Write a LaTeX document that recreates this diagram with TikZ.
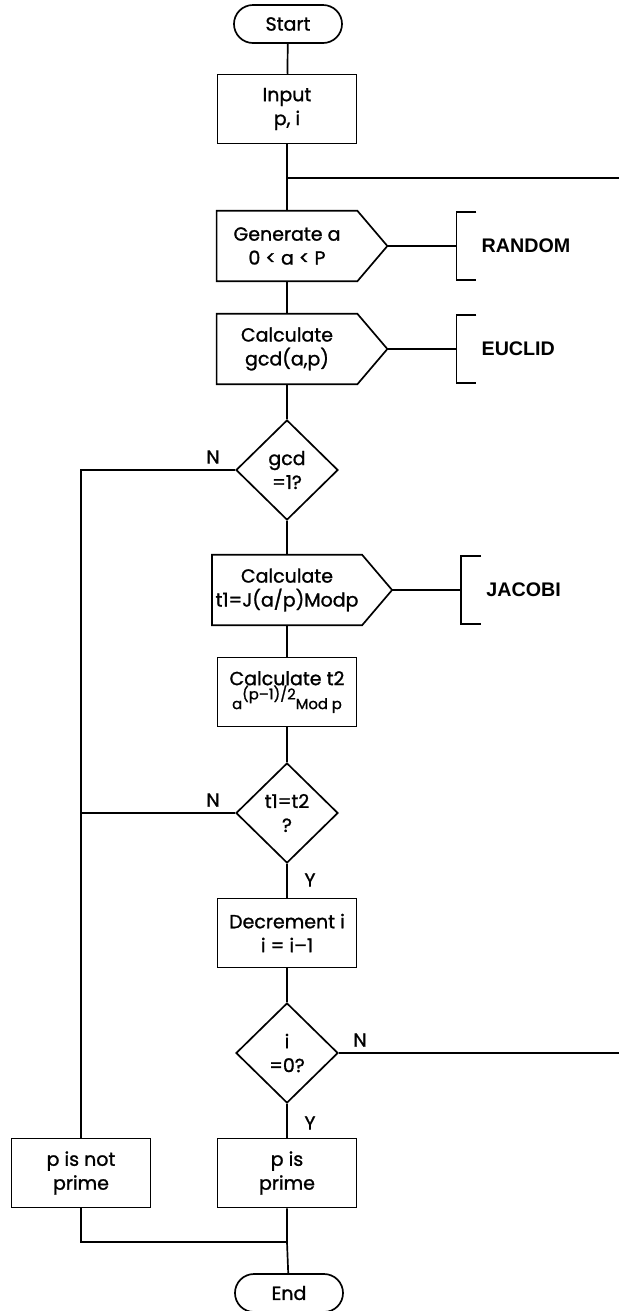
\documentclass[tikz,border=0pt]{standalone}
\usepackage{fontspec}
\setmainfont{Poppins}[FakeBold=1.2]
\newfontfamily\libfont{Liberation Sans}
\usetikzlibrary{shapes.geometric,shapes.misc,calc}

\tikzset{
  flow/.style={line width=1.2pt},
  term/.style={rounded rectangle, draw, flow, minimum width=2.7cm,
    minimum height=0.95cm, inner sep=0pt},
  proc/.style={rectangle, draw, flow, minimum width=3.475cm,
    minimum height=1.72cm, inner sep=2pt, align=center},
  subr/.style={proc, draw=none},
  decide/.style={diamond, draw, flow, minimum width=2.55cm,
    minimum height=2.5cm, inner sep=0pt, align=center},
  yn/.style={inner sep=0pt},
  lib/.style={font=\libfont\bfseries\fontsize{14}{16}\selectfont,
    inner sep=0pt, anchor=west},
}

% box with a pointed right end
\newcommand{\tipbox}[1]{%
  \draw[flow] (#1.north west) -- (#1.north east)
    -- ($(#1.east)+(30,0)$) coordinate (#1-tip)
    -- (#1.south east) -- (#1.south west) -- cycle;}

% bracket naming the routine that is called
\newcommand{\libref}[3]{%
  \coordinate (#1) at ($(#2-tip)+(69,0)$);
  \draw[flow] (#2-tip) -- (#1);
  \draw[flow] ($(#1)+(20,-34)$) -- ($(#1)+(0,-34)$)
    -- ($(#1)+(0,34)$) -- ($(#1)+(20,34)$);
  \node[lib] (#1-name) at ($(#1)+(25,0)$) {#3};}

\begin{document}
\begin{tikzpicture}[x=0.025cm,y=-0.025cm,font=\fontsize{13.5}{17}\selectfont]
  \useasboundingbox (0,0) rectangle (619,1311);

  \node[term] (start) at (288,24) {Start};
  \node[proc] (input) at (287,109) {Input\\p, i};
  \coordinate (loopin) at (287,178);
  \coordinate (loopR) at (619,178);
  \node[subr] (gen) at (287,246) {Generate a\\0 < a < P};
  \node[subr] (gcd) at (287,349) {Calculate\\gcd(a,p)};
  \node[decide] (isone) at (287,470) {gcd\\=1?};
  \node[subr] (jac) at (287,590) {Calculate\\t1=J(a/p)Modp};
  \node[proc] (pow) at (287,692)
    {Calculate t2\\{\fontsize{10.5}{12}\selectfont a\raisebox{1.2ex}{(p--1)/2}Mod p}};
  \node[decide] (eq) at (287,813) {t1=t2\\?};
  \node[proc] (dec) at (287,933) {Decrement i\\i = i--1};
  \node[decide] (zero) at (287,1053) {i\\=0?};
  \coordinate (loopback) at (619,1053);
  \node[proc] (notprime) at (81,1173) {p is not\\prime};
  \node[proc] (prime) at (287,1173) {p is\\prime};
  \coordinate (merge) at (287,1242);
  \node[term] (stop) at (289,1293) {End};

  \tipbox{gen}
  \tipbox{gcd}
  \tipbox{jac}
  \libref{rnd}{gen}{RANDOM}
  \libref{euc}{gcd}{EUCLID}
  \libref{jcb}{jac}{JACOBI}

  \draw[flow] (start) -- (input);
  \draw[flow] (input) -- (loopin) -- (gen);
  \draw[flow] (loopin) -- (loopR);
  \draw[flow] (gen) -- (gcd);
  \draw[flow] (gcd) -- (isone);
  \draw[flow] (isone) -- (jac);
  \draw[flow] (jac) -- (pow);
  \draw[flow] (pow) -- (eq);
  \draw[flow] (eq) -- (dec);
  \draw[flow] (dec) -- (zero);
  \draw[flow] (zero) -- (prime);
  \draw[flow] (prime) -- (merge) -- (stop);
  \draw[flow] (zero.east) -- (loopback);
  \draw[flow] (isone.west) -| (notprime.north);
  \draw[flow] (eq.west) -- (eq.west -| notprime.north);
  \draw[flow] (notprime.south) |- (merge);

  \node[yn] (n1) at (213,457) {N};
  \node[yn] (n2) at (213,800) {N};
  \node[yn] (y1) at (310,880) {Y};
  \node[yn] (n3) at (360,1040) {N};
  \node[yn] (y2) at (310,1123) {Y};
\end{tikzpicture}
\end{document}
